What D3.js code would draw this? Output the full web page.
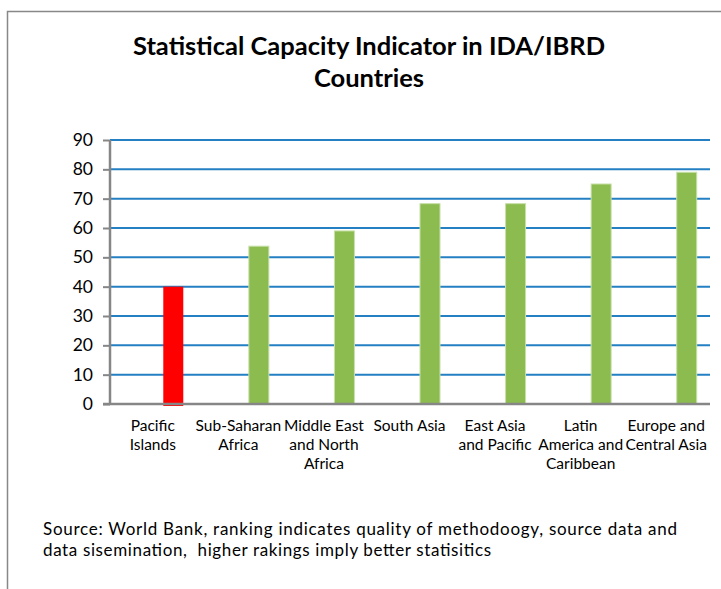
<!DOCTYPE html>
<html>
<head>
<meta charset="utf-8">
<script src="https://cdn.jsdelivr.net/npm/d3@7/dist/d3.min.js"></script>
<style>
  html, body { margin: 0; padding: 0; background: #ffffff; }
  svg { display: block; font-family: Lato, "Open Sans", sans-serif; }
</style>
</head>
<body>
<svg id="chart" width="721" height="589"></svg>
<script>
// Regions (line breaks as shown under each bar)
const categories = [
  "Pacific\nIslands",
  "Sub-Saharan\nAfrica",
  "Middle East\nand North\nAfrica",
  "South Asia",
  "East Asia\nand Pacific",
  "Latin\nAmerica and\nCaribbean",
  "Europe and\nCentral Asia"
];
// Statistical capacity score per region
const values = [40, 53.8, 59, 68.3, 68.3, 75, 79];
// Highlighted region drawn in red, others in green
const highlight = [true, false, false, false, false, false, false];
const yTicks = [0, 10, 20, 30, 40, 50, 60, 70, 80, 90];

const titleLines = ["Statistical Capacity Indicator in IDA/IBRD", "Countries"];
const noteLines = [
  "Source: World Bank, ranking indicates quality of methodoogy, source data and",
  "data sisemination,  higher rakings imply better statisitics"
];
// Set widths of the two note lines
const noteWidths = [634, 448];

const svg = d3.select("#chart");

// Outer frame of the chart area
svg.append("rect")
  .attr("x", 7.5).attr("y", 11.5)
  .attr("width", 760).attr("height", 620)
  .attr("fill", "#ffffff")
  .attr("stroke", "#888888").attr("stroke-width", 1.5);

const plot = { left: 110, right: 709, top: 140, bottom: 404 };

const x = d3.scaleBand()
  .domain(d3.range(categories.length))
  .range([plot.left, plot.right])
  .paddingInner(0).paddingOuter(0);

const y = d3.scaleLinear()
  .domain([0, 90])
  .range([plot.bottom, plot.top]);

// Horizontal gridlines
svg.append("g")
  .selectAll("line")
  .data(yTicks.filter(t => t > 0))
  .join("line")
  .attr("x1", plot.left).attr("x2", plot.right + 1)
  .attr("y1", d => y(d)).attr("y2", d => y(d))
  .attr("stroke", "#2580c3").attr("stroke-width", 2);

// Y axis with tick labels
const yAxis = d3.axisLeft(y)
  .tickValues(yTicks)
  .tickSize(7)
  .tickPadding(10)
  .tickFormat(d3.format("d"));

const gy = svg.append("g")
  .attr("transform", `translate(${plot.left},0)`)
  .call(yAxis);
gy.select(".domain").remove();
gy.selectAll(".tick line").attr("stroke", "#868686").attr("stroke-width", 2);
gy.selectAll(".tick text")
  .attr("fill", "#000000")
  .style("font-size", "17.5px")
  .style("font-family", "Lato, sans-serif");

// Bars: each sits in the right-hand slot of its category
const barW = 20;
const barOffset = 10.5;
svg.append("g")
  .selectAll("rect")
  .data(values)
  .join("rect")
  .attr("x", (d, i) => x(i) + x.bandwidth() / 2 + barOffset)
  .attr("y", d => y(d))
  .attr("width", barW)
  .attr("height", (d, i) => y(0) - y(d) + (highlight[i] ? 2 : 0))
  .attr("fill", (d, i) => highlight[i] ? "#ff0000" : "#8cbb50")
  .attr("stroke", (d, i) => highlight[i] ? "none" : "#c8e0a8")
  .attr("stroke-width", 1);

// Axis lines
svg.append("line")
  .attr("x1", plot.left).attr("x2", plot.left)
  .attr("y1", plot.top).attr("y2", plot.bottom + 1)
  .attr("stroke", "#868686").attr("stroke-width", 2.5);
svg.append("line")
  .attr("x1", plot.left - 7).attr("x2", plot.right + 1)
  .attr("y1", plot.bottom).attr("y2", plot.bottom)
  .attr("stroke", "#868686").attr("stroke-width", 2.5);

// Category labels
const catG = svg.append("g")
  .attr("font-size", 15.5)
  .attr("fill", "#000000")
  .attr("text-anchor", "middle");
categories.forEach((c, i) => {
  const t = catG.append("text")
    .attr("x", x(i) + x.bandwidth() / 2)
    .attr("y", 431);
  c.split("\n").forEach((line, j) => {
    t.append("tspan")
      .attr("x", x(i) + x.bandwidth() / 2)
      .attr("dy", j === 0 ? 0 : 19)
      .text(line);
  });
});

// Title
svg.append("g")
  .attr("text-anchor", "middle")
  .attr("font-weight", "bold")
  .attr("font-size", 25.5)
  .selectAll("text")
  .data(titleLines)
  .join("text")
  .attr("x", 369)
  .attr("y", (d, i) => 55 + i * 32)
  .text(d => d);

// Source note
svg.append("g")
  .attr("font-size", 17)
  .selectAll("text")
  .data(noteLines)
  .join("text")
  .attr("x", 43)
  .attr("y", (d, i) => 535 + i * 21)
  .attr("textLength", (d, i) => noteWidths[i])
  .attr("lengthAdjust", "spacing")
  .style("white-space", "pre")
  .text(d => d);
</script>
</body>
</html>
